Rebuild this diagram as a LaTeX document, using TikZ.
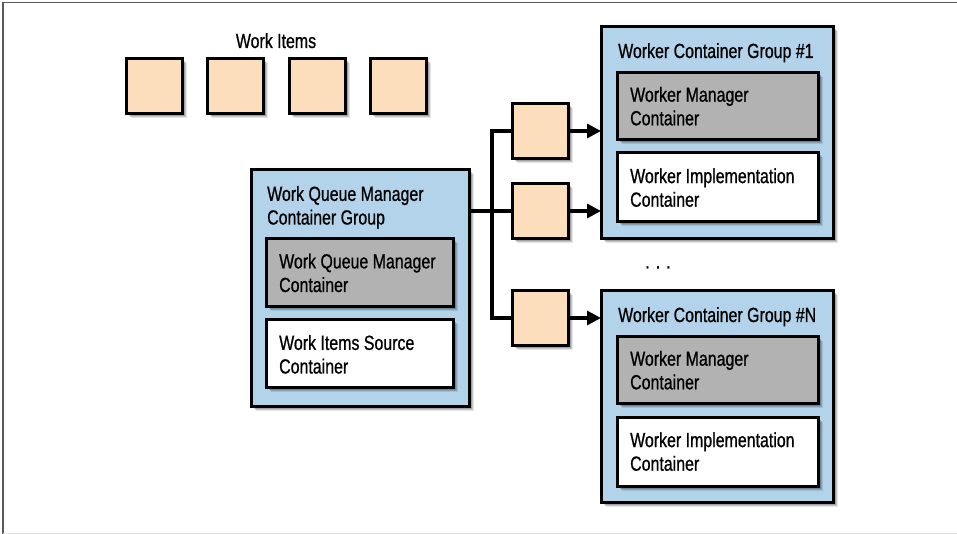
\documentclass[tikz,border=0pt]{standalone}
\usepackage{fontspec}
\setmainfont{Liberation Sans}[FakeStretch=0.78,FakeBold=0.8]
\usetikzlibrary{arrows.meta,shadows}
\definecolor{grpblue}{RGB}{178,211,234}
\definecolor{cgray}{RGB}{178,178,178}
\definecolor{peach}{RGB}{252,222,189}
\definecolor{framegray}{RGB}{90,90,90}
\definecolor{framelight}{RGB}{225,225,225}
\tikzset{
  shd/.style={
    drop shadow={shadow xshift=4.5bp,shadow yshift=-4.5bp,opacity=0.10,fill=black},
    drop shadow={shadow xshift=3.5bp,shadow yshift=-3.5bp,opacity=0.14,fill=black},
    drop shadow={shadow xshift=2.5bp,shadow yshift=-2.5bp,opacity=0.18,fill=black}},
  box/.style={shd,draw=black,line width=3bp,inner sep=0pt,outer sep=0pt,anchor=north west},
  grp/.style={box,fill=grpblue,minimum width=232bp,minimum height=211bp},
  mgr/.style={box,fill=cgray,minimum width=201bp,minimum height=66.5bp},
  impl/.style={box,fill=white,minimum width=201bp,minimum height=69bp},
  item/.style={box,fill=peach,minimum width=56bp,minimum height=55bp},
  lbl/.style={anchor=base west,inner sep=0pt,align=left,font=\fontsize{20.5}{23.7}\selectfont},
  wire/.style={draw=black,line width=3.2bp,line join=miter},
  arrowwire/.style={wire,-{Triangle[length=14bp,width=14bp]}},
}
\begin{document}
\begin{tikzpicture}[x=1bp,y=-1bp]
\useasboundingbox (0,0) rectangle (957,534);
% frame
\draw[line width=1.5bp,framegray] (3,534) -- (3,2.5) -- (957,2.5);
\draw[line width=1bp,framelight] (3,533) -- (957,533);

% work items
\node[lbl,anchor=base] (witxt) at (276,48) {Work Items};
\node[item] (w1) at (126,59) {};
\node[item] (w2) at (207,59) {};
\node[item] (w3) at (289,59) {};
\node[item] (w4) at (370,59) {};

% left group
\node[box,fill=grpblue,minimum width=218bp,minimum height=236bp] (lg) at (251,170) {};
\node[lbl] (lgt) at (267,224.5) {Work Queue Manager\\Container Group};
\node[box,fill=cgray,minimum width=187bp,minimum height=67bp] (lm) at (266,239) {};
\node[lbl] (lmt) at (279,292) {Work Queue Manager\\Container};
\node[box,fill=white,minimum width=187bp,minimum height=67bp] (ls) at (266,320) {};
\node[lbl] (lst) at (279,373.5) {Work Items Source\\Container};

% right group 1
\node[grp] (g1) at (601,27) {};
\node[lbl] (g1t) at (618,58) {Worker Container Group \#1};
\node[mgr] (g1m) at (617,72.7) {};
\node[lbl] (g1mt) at (630,125.3) {Worker Manager\\Container};
\node[impl] (g1i) at (617,153) {};
\node[lbl] (g1it) at (630,206.7) {Worker Implementation\\Container};

% dots
\node[lbl,anchor=base] (dots) at (658,268.5) {.\hspace{6bp}.\hspace{6bp}.};

% right group N
\node[grp] (gN) at (601,291) {};
\node[lbl] (gNt) at (618,322) {Worker Container Group \#N};
\node[mgr] (gNm) at (617,336.7) {};
\node[lbl] (gNmt) at (630,389.3) {Worker Manager\\Container};
\node[impl] (gNi) at (617,417) {};
\node[lbl] (gNit) at (630,470.7) {Worker Implementation\\Container};

% queued items
\node[item] (q1) at (512,103.5) {};
\node[item] (q2) at (512,183.5) {};
\node[item] (q3) at (512,290.5) {};

% connectors
\coordinate (j) at (492,211);
\path[wire] (q2.west -| lg.east) -- (q2.west);
\path[wire] (q1.west) -- (q1.west -| j) -- (q3.west -| j) -- (q3.west);
\path[arrowwire] (q1.east) -- (q1.east -| g1.west);
\path[arrowwire] (q2.east) -- (q2.east -| g1.west);
\path[arrowwire] (q3.east) -- (q3.east -| gN.west);
\end{tikzpicture}
\end{document}
